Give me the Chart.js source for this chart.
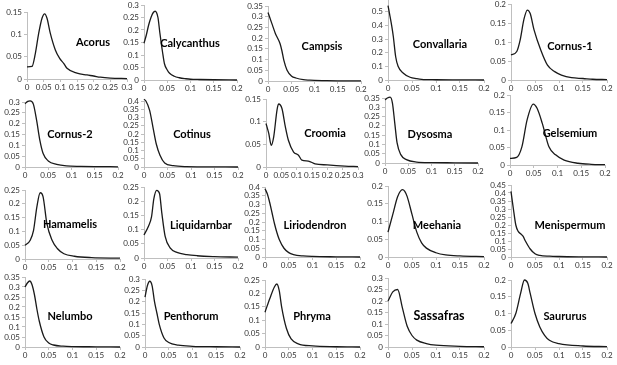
<!DOCTYPE html>
<html><head><meta charset="utf-8">
<script src="https://cdn.jsdelivr.net/npm/chart.js@4"></script>
<style>
html,body{margin:0;padding:0;background:#fff;width:617px;height:365px;overflow:hidden;position:relative}
canvas{position:absolute}
</style></head><body>
<script>
// ---------- data ----------
const names = ['Acorus','Calycanthus','Campsis','Convallaria','Cornus-1',
  'Cornus-2','Cotinus','Croomia','Dysosma','Gelsemium',
  'Hamamelis','Liquidarnbar','Liriodendron','Meehania','Menispermum',
  'Nelumbo','Penthorum','Phryma','Sassafras','Saururus'];
const xAxisMax = [0.3,0.2,0.2,0.2,0.2, 0.2,0.2,0.3,0.2,0.2, 0.2,0.2,0.2,0.2,0.2, 0.2,0.2,0.2,0.2,0.2];
const yAxisMax = [0.15,0.3,0.35,0.6,0.2, 0.3,0.4,0.15,0.35,0.2, 0.25,0.25,0.4,0.2,0.45, 0.35,0.3,0.25,0.3,0.2];
const yLastTick = [0.15,0.3,0.35,0.5,0.2, 0.3,0.4,0.15,0.35,0.2, 0.25,0.25,0.4,0.2,0.45, 0.35,0.3,0.25,0.3,0.2];
const tickStep = 0.05;
const yTickStep = [0.05,0.05,0.05,0.1,0.05, 0.05,0.05,0.05,0.05,0.05, 0.05,0.05,0.05,0.05,0.05, 0.05,0.05,0.05,0.05,0.05];

const acorusX = [0,0.015,0.025,0.035,0.045,0.053,0.06,0.07,0.085,0.098,0.11,0.12,0.15,0.18,0.2,0.22,0.25,0.3];
const acorusY = [0.027,0.028,0.057,0.102,0.136,0.146,0.136,0.102,0.065,0.046,0.035,0.024,0.013,0.009,0.0067,0.004,0.002,0.001];
const calycanthusX = [0,0.005,0.01,0.015,0.02,0.024,0.03,0.034,0.04,0.044,0.05,0.055,0.065,0.076,0.09,0.1,0.12,0.15,0.2];
const calycanthusY = [0.147,0.18,0.22,0.25,0.27,0.275,0.25,0.19,0.11,0.065,0.04,0.027,0.015,0.009,0.005,0.003,0.002,0.001,0];
const campsisX = [0,0.008,0.016,0.026,0.03,0.034,0.041,0.051,0.06,0.076,0.09,0.1,0.12,0.15,0.2];
const campsisY = [0.32,0.27,0.221,0.174,0.14,0.097,0.05,0.022,0.014,0.006,0.004,0.003,0.002,0.001,0.001];
const convallariaX = [0,0.004,0.008,0.011,0.016,0.021,0.032,0.046,0.06,0.07,0.1,0.15,0.2];
const convallariaY = [0.545,0.47,0.39,0.32,0.17,0.1,0.05,0.02,0.01,0.005,0.002,0.001,0];
const cornus1X = [0,0.012,0.019,0.027,0.034,0.04,0.048,0.062,0.076,0.091,0.105,0.126,0.15,0.17,0.2];
const cornus1Y = [0.066,0.075,0.105,0.16,0.184,0.175,0.132,0.079,0.039,0.022,0.013,0.006,0.004,0.002,0.001];
const cornus2X = [0,0.006,0.011,0.018,0.025,0.032,0.039,0.05,0.068,0.089,0.12,0.15,0.2];
const cornus2Y = [0.292,0.303,0.305,0.29,0.215,0.123,0.062,0.028,0.012,0.005,0.003,0.002,0.001];
const cotinusX = [0,0.004,0.012,0.019,0.026,0.034,0.044,0.062,0.09,0.12,0.2];
const cotinusY = [0.41,0.4,0.343,0.242,0.141,0.071,0.024,0.008,0.002,0.001,0];
const croomiaX = [0,0.009,0.017,0.025,0.036,0.041,0.052,0.063,0.073,0.09,0.106,0.117,0.138,0.16,0.2,0.257,0.3];
const croomiaY = [0.096,0.074,0.048,0.066,0.126,0.139,0.129,0.089,0.059,0.033,0.026,0.015,0.013,0.007,0.0045,0.002,0.001];
const dysosmaX = [0,0.005,0.011,0.016,0.021,0.026,0.034,0.046,0.068,0.1,0.15,0.2];
const dysosmaY = [0.34,0.35,0.355,0.323,0.215,0.108,0.045,0.018,0.005,0.002,0.001,0];
const gelsemiumX = [0,0.014,0.025,0.036,0.049,0.057,0.068,0.082,0.096,0.114,0.143,0.171,0.2];
const gelsemiumY = [0.019,0.022,0.052,0.129,0.174,0.162,0.119,0.052,0.029,0.014,0.005,0.002,0.001];
const hamamelisX = [0,0.011,0.018,0.025,0.032,0.038,0.046,0.057,0.068,0.082,0.104,0.14,0.2];
const hamamelisY = [0.05,0.068,0.104,0.189,0.24,0.226,0.129,0.068,0.038,0.019,0.01,0.005,0.003];
const liquidarnbarX = [0,0.009,0.016,0.021,0.027,0.033,0.038,0.045,0.056,0.07,0.091,0.113,0.149,0.2];
const liquidarnbarY = [0.081,0.11,0.145,0.209,0.238,0.227,0.157,0.076,0.035,0.02,0.012,0.008,0.005,0.003];
const liriodendronX = [0,0.005,0.01,0.015,0.02,0.025,0.03,0.04,0.05,0.06,0.08,0.1,0.15,0.2];
const liriodendronY = [0.39,0.36,0.31,0.25,0.19,0.14,0.1,0.05,0.025,0.014,0.006,0.003,0.001,0];
const meehaniaX = [0,0.01,0.02,0.03,0.035,0.04,0.05,0.06,0.07,0.08,0.1,0.12,0.15,0.2];
const meehaniaY = [0.07,0.12,0.17,0.19,0.185,0.17,0.12,0.07,0.04,0.025,0.012,0.006,0.003,0.001];
const menispermumX = [0,0.005,0.01,0.015,0.02,0.025,0.03,0.04,0.05,0.06,0.08,0.1,0.15,0.2];
const menispermumY = [0.41,0.3,0.2,0.16,0.145,0.13,0.1,0.05,0.02,0.01,0.005,0.003,0.001,0];
const nelumboX = [0,0.005,0.01,0.015,0.02,0.025,0.03,0.04,0.05,0.06,0.08,0.1,0.15,0.2];
const nelumboY = [0.3,0.32,0.33,0.31,0.26,0.19,0.13,0.05,0.02,0.01,0.004,0.002,0.001,0];
const penthorumX = [0,0.005,0.01,0.015,0.02,0.025,0.03,0.04,0.05,0.07,0.1,0.15,0.2];
const penthorumY = [0.22,0.27,0.29,0.27,0.2,0.15,0.1,0.04,0.02,0.008,0.003,0.001,0];
const phrymaX = [0,0.01,0.02,0.025,0.03,0.035,0.045,0.055,0.07,0.1,0.15,0.2];
const phrymaY = [0.13,0.18,0.225,0.235,0.21,0.15,0.07,0.03,0.012,0.004,0.001,0];
const sassafrasX = [0,0.01,0.02,0.03,0.04,0.05,0.06,0.08,0.1,0.15,0.2];
const sassafrasY = [0.2,0.24,0.25,0.17,0.09,0.05,0.03,0.015,0.008,0.003,0.001];
const saururusX = [0,0.01,0.02,0.028,0.035,0.04,0.05,0.06,0.07,0.08,0.1,0.15,0.2];
const saururusY = [0.07,0.1,0.16,0.2,0.19,0.16,0.1,0.06,0.035,0.02,0.01,0.003,0.001];

const seriesX = [acorusX,calycanthusX,campsisX,convallariaX,cornus1X,cornus2X,cotinusX,croomiaX,dysosmaX,gelsemiumX,
  hamamelisX,liquidarnbarX,liriodendronX,meehaniaX,menispermumX,nelumboX,penthorumX,phrymaX,sassafrasX,saururusX];
const seriesY = [acorusY,calycanthusY,campsisY,convallariaY,cornus1Y,cornus2Y,cotinusY,croomiaY,dysosmaY,gelsemiumY,
  hamamelisY,liquidarnbarY,liriodendronY,meehaniaY,menispermumY,nelumboY,penthorumY,phrymaY,sassafrasY,saururusY];

// ---------- layout (page pixels of plot areas: left, right, top(=yAxisMax), bottom(=0); label centre, label size) ----------
const plotBoxes = [
  [26.7,126.7,11.7,79, 93,42,11],[144.3,236.7,5,80, 190,43,11],[267.7,361,5.7,80.7, 322,46,11],[388.3,484,-1.6,80, 440,44,11],[511,606.7,4.3,80, 570,46,11],
  [25,118.3,101.7,166.7, 70,134,11],[144.3,238.3,100.7,166.7, 192,134,11],[265.7,358.3,99,166.7, 325,133,11],[385,478.3,98.3,163.3, 430,134,11],[510,605,95,165, 570,133,11],
  [25,120,190,258.7, 70,224,11],[144,238.3,186.7,258.3, 201,225,11],[265,360,187,257, 315,225,11],[388,484,186,257, 437,225,11],[511,607,185,257, 570,225,11],
  [25,120,277,347, 70,316,11],[145,240,279,347, 191,316,11],[265,360,280,347, 312,316,11],[388,484,278,347, 439,316,12.5],[511,607,280,347, 565,316,11]
];
const PADL = 34, PADR = 10, PADT = 10, PADB = 16;
const tickFont = {family:'Lato, "DejaVu Sans", sans-serif', size:8};
const labelFamily = 'Lato, "DejaVu Sans", sans-serif';

function mkTicks(max, step){const t=[];for(let v=0;v<=max+1e-9;v+=step)t.push({value:+v.toFixed(3)});return t;}
function fmt(v){return String(+(+v).toFixed(3));}

names.forEach((name,i)=>{
  const [l,r,t,b,lx,ly,ls] = plotBoxes[i];
  const cl = Math.round(l) - PADL, ct = Math.round(t) - PADT;
  const w = Math.round(r) - Math.round(l) + PADL + PADR;
  const h = Math.round(b) - Math.round(t) + PADT + PADB;
  const cv = document.createElement('canvas');
  cv.width = w; cv.height = h;
  cv.style.left = cl+'px'; cv.style.top = ct+'px';
  cv.style.width = w+'px'; cv.style.height = h+'px';
  document.body.appendChild(cv);
  const labelPlugin = {
    id:'lbl'+i,
    afterDatasetsDraw(chart){
      const c = chart.ctx; c.save();
      c.font = 'bold '+ls+'px '+labelFamily; c.fillStyle='#000'; c.textAlign='center'; c.textBaseline='middle';
      c.fillText(name, lx-cl, ly-ct); c.restore();
    }
  };
  new Chart(cv, {
    type:'line',
    data:{datasets:[{data:seriesX[i].map((x,k)=>({x, y:seriesY[i][k]})), borderColor:'#1a1a1a', borderWidth:1.3,
      pointRadius:0, cubicInterpolationMode:'monotone', fill:false}]},
    options:{
      responsive:false, animation:false, devicePixelRatio:1, clip:false,
      layout:{padding:{left:0,top:PADT,right:PADR,bottom:0}},
      plugins:{legend:{display:false}, tooltip:{enabled:false}},
      scales:{
        x:{type:'linear', min:0, max:xAxisMax[i],
          afterBuildTicks:s=>{s.ticks=mkTicks(xAxisMax[i], tickStep);},
          afterFit:s=>{s.height=PADB;},
          grid:{drawOnChartArea:false, drawTicks:true, tickLength:3, color:'#bfbfbf'},
          border:{color:'#bfbfbf'},
          ticks:{autoSkip:false, maxRotation:0, minRotation:0, padding:1, font:tickFont, color:'#333', callback:fmt}},
        y:{type:'linear', min:0, max:yAxisMax[i],
          afterBuildTicks:s=>{s.ticks=mkTicks(yLastTick[i], yTickStep[i]);},
          afterFit:s=>{s.width=PADL;},
          grid:{drawOnChartArea:false, drawTicks:true, tickLength:3, color:'#bfbfbf'},
          border:{color:'#bfbfbf'},
          ticks:{autoSkip:false, padding:2, font:tickFont, color:'#333', callback:fmt}}
      }
    },
    plugins:[labelPlugin]
  });
});
</script>
</body></html>
